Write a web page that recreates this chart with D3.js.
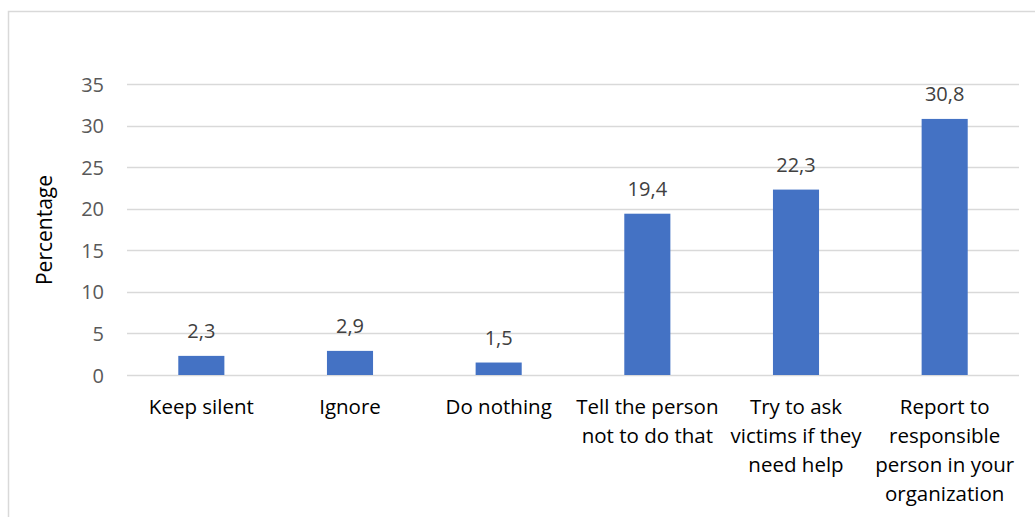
<!DOCTYPE html>
<html>
<head>
<meta charset="utf-8">
<script src="https://cdn.jsdelivr.net/npm/d3@7"></script>
<style>
  html, body { margin: 0; padding: 0; background: #fff; }
  svg { display: block; }
</style>
</head>
<body>
<svg id="chart" width="1035" height="517"></svg>
<script>
// Responses: what people would do when witnessing the behaviour
const categories = [
  "Keep silent",
  "Ignore",
  "Do nothing",
  "Tell the person\nnot to do that",
  "Try to ask\nvictims if they\nneed help",
  "Report to\nresponsible\nperson in your\norganization"
];
const values = [2.3, 2.9, 1.5, 19.4, 22.3, 30.8];
const yTicks = [0, 5, 10, 15, 20, 25, 30, 35];
const yTitle = "Percentage";

const svg = d3.select("#chart");
const font = "'Open Sans', 'Noto Sans', sans-serif";

// Outer chart frame
svg.append("rect")
  .attr("x", 8.5).attr("y", 11.5)
  .attr("width", 1040).attr("height", 520)
  .attr("fill", "none")
  .attr("stroke", "#d9d9d9")
  .attr("stroke-width", 1.5);

const plot = { left: 127, right: 1019, top: 84, bottom: 375 };

const x = d3.scaleBand()
  .domain(categories)
  .range([plot.left, plot.right])
  .paddingInner(0.69)
  .paddingOuter(0.345);

const y = d3.scaleLinear()
  .domain([0, 35])
  .range([plot.bottom, plot.top]);

// Horizontal gridlines
svg.append("g")
  .selectAll("line")
  .data(yTicks)
  .join("line")
  .attr("x1", plot.left).attr("x2", plot.right)
  .attr("y1", d => Math.round(y(d)) + 0.5)
  .attr("y2", d => Math.round(y(d)) + 0.5)
  .attr("stroke", "#d9d9d9")
  .attr("stroke-width", 1.3);

// Y axis tick labels
const yAxis = d3.axisLeft(y).tickValues(yTicks).tickSize(0).tickPadding(0);
svg.append("g")
  .attr("transform", `translate(104,0)`)
  .call(yAxis)
  .call(g => g.select(".domain").remove())
  .call(g => g.selectAll("text")
    .attr("font-family", font)
    .attr("font-size", 20)
    .attr("fill", "#595959")
    .attr("dy", "0.35em"));

// Y axis title
svg.append("text")
  .attr("transform", `translate(52,230) rotate(-90)`)
  .attr("text-anchor", "middle")
  .attr("font-family", font)
  .attr("font-size", 21)
  .attr("fill", "#000")
  .text(yTitle);

// Bars
svg.append("g")
  .selectAll("rect")
  .data(values)
  .join("rect")
  .attr("x", (d, i) => x(categories[i]))
  .attr("width", x.bandwidth())
  .attr("y", d => y(d))
  .attr("height", d => y(0) - y(d))
  .attr("fill", "#4472c4");

// Value labels (decimal comma)
svg.append("g")
  .selectAll("text")
  .data(values)
  .join("text")
  .attr("x", (d, i) => x(categories[i]) + x.bandwidth() / 2)
  .attr("y", d => y(d) - 18)
  .attr("text-anchor", "middle")
  .attr("font-family", font)
  .attr("font-size", 20)
  .attr("fill", "#404040")
  .text(d => d.toFixed(1).replace(".", ","));

// Category labels, wrapped onto multiple lines
const cat = svg.append("g")
  .selectAll("text")
  .data(categories)
  .join("text")
  .attr("x", d => x(d) + x.bandwidth() / 2)
  .attr("y", 414)
  .attr("text-anchor", "middle")
  .attr("font-family", font)
  .attr("font-size", 20.5)
  .attr("fill", "#000");
cat.each(function(d) {
  const t = d3.select(this);
  d.split("\n").forEach((line, k) => {
    t.append("tspan")
      .attr("x", t.attr("x"))
      .attr("dy", k === 0 ? 0 : 29)
      .text(line);
  });
});
</script>
</body>
</html>
